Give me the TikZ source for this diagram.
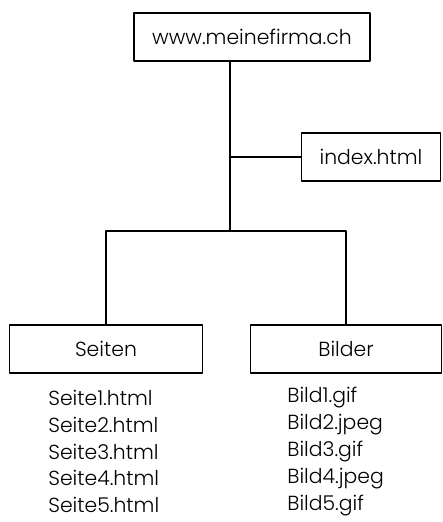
\documentclass[tikz,border=0pt]{standalone}
\usepackage{fontspec}
\setmainfont{Poppins}[UprightFont=* Light]
\usepackage{xcolor}
\usetikzlibrary{positioning}

\tikzset{
  dirbox/.style={draw, line width=1.1pt, minimum height=48*0.02cm, inner sep=0pt, font=\fontsize{11.6}{14}\selectfont},
  fileitem/.style={anchor=west, inner sep=0pt, font=\fontsize{11.6}{14}\selectfont},
  wire/.style={line width=0.9pt}
}

\begin{document}
\begin{tikzpicture}[x=0.02cm, y=-0.02cm, line join = round]

    \useasboundingbox (0,0) rectangle (443,522);

    % Boxen
    \node [dirbox, minimum width=236*0.02cm] (root) at (252,37) {www.meinefirma.ch};
    \node [dirbox, minimum width=139*0.02cm] (index) at (371,157) {index.html};
    \node [dirbox, minimum width=193*0.02cm] (seiten) at (106,349) {Seiten};
    \node [dirbox, minimum width=191*0.02cm] (bilder) at (346,349) {Bilder};

    % Verbindungen
    \coordinate (branch) at (230,157);
    \coordinate (trunk) at (230,231);
    \draw [wire] (root.south -| trunk) -- (trunk);
    \draw [wire] (branch) -- (index.west);
    \draw [wire] (seiten.north) |- (trunk) -| (bilder.north);

    % Dateien
    \foreach \i in {1,...,5}
        \node [fileitem] (seite\i) at (48,{398+26.8*(\i-1)}) {Seite\i.html};
    \foreach \i/\ext in {1/gif,2/jpeg,3/gif,4/jpeg,5/gif}
        \node [fileitem] (bild\i) at (287,{398+26.8*(\i-1)}) {Bild\i.\ext};

\end{tikzpicture}
\end{document}
